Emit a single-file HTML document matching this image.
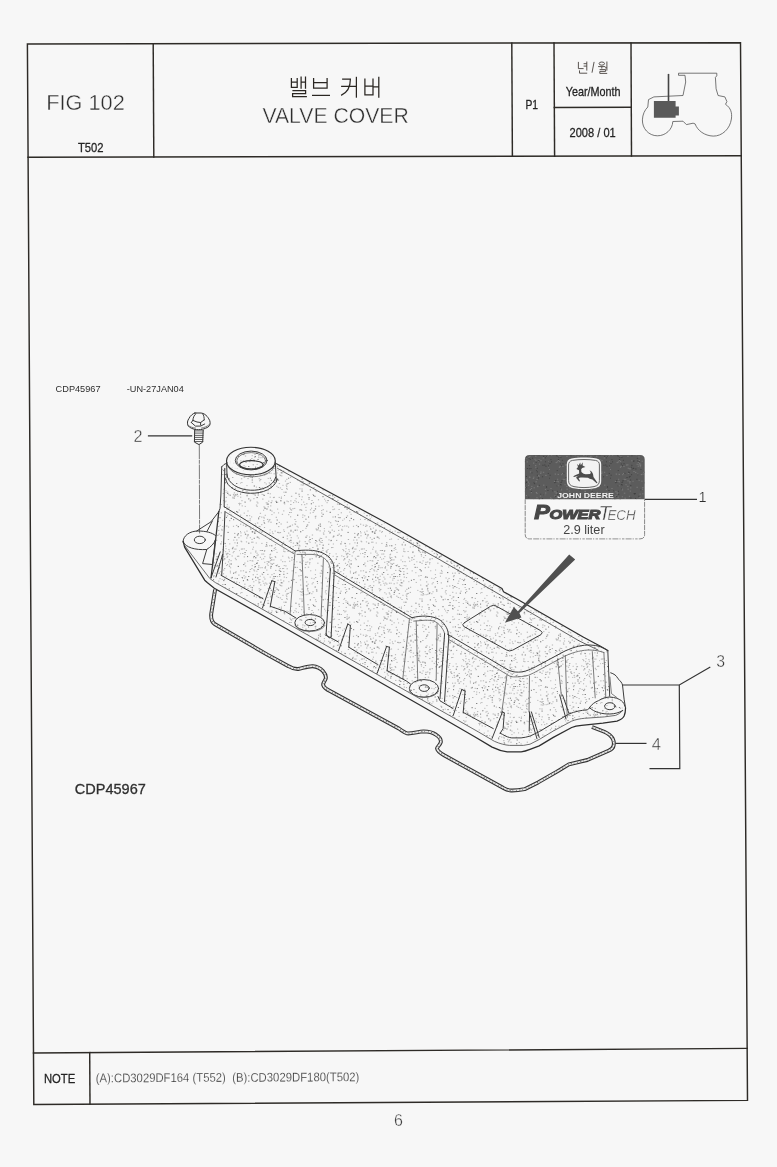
<!DOCTYPE html>
<html><head><meta charset="utf-8"><title>FIG 102 VALVE COVER</title>
<style>
html,body{margin:0;padding:0;background:#f7f7f7;}
body{width:777px;height:1167px;overflow:hidden;font-family:"Liberation Sans",sans-serif;}
svg{display:block;position:absolute;left:0;top:0;}
text{font-family:"Liberation Sans",sans-serif;fill:#2e2e2e;}
.fr{stroke:#2e2b27;stroke-width:1.45;fill:none;stroke-linecap:square;}
.k{stroke:#2a2622;stroke-width:1.25;fill:none;stroke-linecap:butt;stroke-linejoin:miter;}
.ks{stroke:#47423d;stroke-width:0.9;fill:none;stroke-linecap:butt;}
.l{stroke:#3c3c3c;stroke-width:1.0;fill:none;stroke-linecap:round;stroke-linejoin:round;}
.l2{stroke:#5a5a5a;stroke-width:0.8;fill:none;stroke-linecap:round;stroke-linejoin:round;}
.ld{stroke:#333;stroke-width:1.2;fill:none;stroke-linecap:butt;}
.thin{stroke:#f7f7f7;stroke-width:0.4;}
.hv{fill:#242424;stroke:#242424;stroke-width:0.28;}
.thin2{stroke:#f7f7f7;stroke-width:0.22;}
</style></head>
<body>
<svg width="777" height="1167" viewBox="0 0 777 1167">
<rect width="777" height="1167" fill="#f7f7f7"/>
<defs>
<filter id="ga" x="-5%" y="-5%" width="110%" height="110%"><feOffset dx="0" dy="0"/></filter>
<pattern id="stp" width="120" height="110" patternUnits="userSpaceOnUse">
<path d="M38.9 16.6h0.2M8.7 58.9h0.2M7.0 55.8h0.1M52.0 7.7h0.1M50.9 91.0h0.1M26.8 69.0h0.3M69.3 43.6h0.3M5.6 94.4h0.1M17.3 13.0h0.1M97.9 19.9h0.2M76.7 41.0h0.2M7.5 6.6h0.1M81.6 47.0h0.1M70.3 49.9h0.1M95.3 76.9h0.1M68.9 57.8h0.3M87.5 31.7h0.3M14.2 46.0h0.3M18.2 53.8h0.1M80.2 84.1h0.2M105.1 34.5h0.3M71.3 63.8h0.2M100.8 103.9h0.2M79.7 6.7h0.3M77.7 109.2h0.3M34.2 42.4h0.3M2.7 50.8h0.1M14.1 6.5h0.3M15.5 27.2h0.2M104.6 8.9h0.2M65.9 97.2h0.3M103.7 30.6h0.2M43.1 97.3h0.3M18.1 19.4h0.1M28.0 53.3h0.2M31.5 0.5h0.2M44.3 62.3h0.3M82.9 56.7h0.2M81.1 5.9h0.3M93.6 96.2h0.3M47.1 43.9h0.1M76.1 6.8h0.1M25.1 17.9h0.2M6.3 0.0h0.1M12.2 40.0h0.1M104.9 67.5h0.1M30.3 38.2h0.2M14.7 93.4h0.3M55.9 53.2h0.1M12.3 37.7h0.1M99.5 17.8h0.1M114.1 58.1h0.1M65.2 3.0h0.2M117.4 95.0h0.3M31.3 40.3h0.1M92.6 58.6h0.3M39.6 24.5h0.3M118.2 93.8h0.3M98.2 81.4h0.1M62.1 39.1h0.1M3.4 30.7h0.1M83.1 105.2h0.2M112.4 108.7h0.3M43.8 24.3h0.1M23.6 22.5h0.2M108.0 92.4h0.2M78.4 88.0h0.1M79.3 100.1h0.3M90.0 52.6h0.1M94.7 36.6h0.3M116.6 43.5h0.2M113.6 79.7h0.1M15.2 16.6h0.3M96.8 16.1h0.3M117.6 72.3h0.2M65.8 14.4h0.1M116.5 71.5h0.2M112.0 47.7h0.3M99.1 23.2h0.1M35.2 26.5h0.2M31.1 46.1h0.1M109.2 38.9h0.2M70.0 99.5h0.2M110.1 55.2h0.2M62.8 2.1h0.2M22.0 0.4h0.3M20.7 52.1h0.3M66.8 35.9h0.2M66.7 86.3h0.1M67.2 27.3h0.1M92.7 55.8h0.2M91.2 100.4h0.2M73.5 55.6h0.2M83.1 49.8h0.2M57.4 103.6h0.3M105.2 103.6h0.1M67.1 103.8h0.3M16.5 13.4h0.2M8.7 26.5h0.1M80.3 86.2h0.3M18.5 78.8h0.2M17.2 97.1h0.3M26.4 104.8h0.2M58.5 108.9h0.3M19.4 47.5h0.2M40.7 21.5h0.1M86.7 2.1h0.2M52.9 2.0h0.1M74.9 56.3h0.1M118.2 86.7h0.3M12.6 29.2h0.1M93.5 29.7h0.1M50.7 100.3h0.3M31.0 16.4h0.3M68.5 77.0h0.1M6.9 75.7h0.2M8.7 103.2h0.2M96.2 9.2h0.3M8.0 94.9h0.2M40.7 60.8h0.3M32.1 14.2h0.2M28.6 12.0h0.1M6.0 22.2h0.1M36.6 83.5h0.1M60.0 19.6h0.2M2.2 27.5h0.1M88.0 60.6h0.1M57.0 102.8h0.1M98.3 47.5h0.2M100.2 43.2h0.2M82.5 108.1h0.2M99.9 77.7h0.2M48.6 38.2h0.1M15.6 7.8h0.3M30.7 18.0h0.1M101.0 95.8h0.3M33.8 26.6h0.1M55.1 17.3h0.2M31.6 105.8h0.3M65.6 26.9h0.3M37.1 39.2h0.1M45.8 52.2h0.2M24.1 55.5h0.1M31.7 9.9h0.2M5.0 2.5h0.1M27.9 64.4h0.2M90.1 72.3h0.3M105.5 42.8h0.1M118.2 16.4h0.3M77.2 4.8h0.3M107.0 69.0h0.3M97.5 15.3h0.2M60.5 91.8h0.3M99.2 64.2h0.3M81.9 76.3h0.1M3.7 14.6h0.2M12.6 91.9h0.2M75.3 68.9h0.3M58.7 0.4h0.3M89.8 55.3h0.2M79.1 7.3h0.3M30.3 8.2h0.1M87.5 22.6h0.3M117.1 54.3h0.2M57.5 75.2h0.3M74.0 70.7h0.1M17.7 27.9h0.3M36.5 62.5h0.1M7.3 29.6h0.3M83.1 74.3h0.1M62.0 51.1h0.2M14.2 98.3h0.1M117.4 103.0h0.1M55.1 90.2h0.3M53.9 29.6h0.1M113.5 23.2h0.2M17.0 57.6h0.3M15.9 90.2h0.2M106.4 77.4h0.1M107.7 53.5h0.1M0.4 54.1h0.2M36.2 15.5h0.2M37.9 92.4h0.1M90.1 92.3h0.1M111.2 78.4h0.3M34.8 40.9h0.2M119.9 64.8h0.2M51.4 30.3h0.1M12.2 91.8h0.1M112.3 27.4h0.1M61.3 20.9h0.2M114.7 97.3h0.3M75.7 100.5h0.3M65.9 79.2h0.1M87.9 49.6h0.3M77.3 31.5h0.1M111.2 14.0h0.2M41.2 32.8h0.3M117.2 28.6h0.2M36.1 61.3h0.2" stroke="#6a6a6a" stroke-width="0.9" stroke-linecap="square" fill="none"/>
<path d="M20.1 17.8h0.1M108.7 54.7h0.1M108.8 109.6h0.2M16.8 21.2h0.1M41.0 10.0h0.1M31.0 62.7h0.4M90.0 45.4h0.2M62.9 41.5h0.2M7.4 30.5h0.4M15.1 55.4h0.3M103.5 23.8h0.1M29.8 44.0h0.2M114.5 93.4h0.4M2.6 3.5h0.3M107.5 52.1h0.3M0.0 43.1h0.4M99.1 94.1h0.4M29.8 12.0h0.1M62.7 75.0h0.4M86.6 71.2h0.3M54.9 60.7h0.1M93.9 25.6h0.4M77.5 33.4h0.1M30.2 70.0h0.3M13.5 7.7h0.2M69.9 42.7h0.1M72.1 1.2h0.2M55.3 105.5h0.3M106.1 52.3h0.1M29.6 105.7h0.3M36.9 2.4h0.2M80.9 46.2h0.1M80.1 101.8h0.1M4.1 37.2h0.2M81.9 21.8h0.3M88.7 55.5h0.1M116.4 34.3h0.3M27.7 24.4h0.3M35.4 104.7h0.2M22.5 24.6h0.2M79.8 104.4h0.1M47.2 23.4h0.4M17.0 5.7h0.1M47.2 98.8h0.4M87.9 109.7h0.4M39.5 20.4h0.4M89.6 3.5h0.3M45.4 41.1h0.2M20.3 0.3h0.1M42.2 105.1h0.1M115.7 22.8h0.2M98.6 90.4h0.2M5.9 52.1h0.2M110.3 21.2h0.2M107.6 3.3h0.2M97.4 84.3h0.1M4.2 6.9h0.4M30.8 82.2h0.4M40.7 30.0h0.4M74.0 28.8h0.3M38.0 30.3h0.1M90.7 100.8h0.3M113.2 2.7h0.1M57.0 105.2h0.4M46.4 27.6h0.2M59.2 102.1h0.1M96.3 81.2h0.3M92.7 66.8h0.2M38.3 39.8h0.3M9.5 21.7h0.3M29.7 7.1h0.1M66.3 35.8h0.4M106.0 108.7h0.1M10.1 10.6h0.2M85.2 49.2h0.1M50.0 68.2h0.3M89.8 93.2h0.3M14.5 92.5h0.2M68.0 41.0h0.3M23.9 27.2h0.1M18.4 97.3h0.3M39.2 43.6h0.4M60.9 25.5h0.3M78.4 109.0h0.1M57.0 90.1h0.3M109.7 4.4h0.2M14.3 20.9h0.4M70.0 102.3h0.2M103.9 49.4h0.1M93.3 104.0h0.1M71.5 68.2h0.1M44.2 15.6h0.1M30.6 65.9h0.3M24.4 1.3h0.2M81.4 20.4h0.2M24.4 87.5h0.2M7.6 11.2h0.2M66.0 70.3h0.1M19.6 76.5h0.2M34.0 33.8h0.4M37.5 62.3h0.2M50.0 95.1h0.4M43.7 21.7h0.3M24.4 0.6h0.4M50.9 90.2h0.2M105.9 50.7h0.1M1.8 60.7h0.3M109.2 9.8h0.3M44.5 55.5h0.1M34.0 57.3h0.4M13.1 54.0h0.3M116.0 21.7h0.1M113.2 107.3h0.2M6.4 101.9h0.2M108.5 68.2h0.3M19.2 86.4h0.1M48.5 93.1h0.3M22.0 24.0h0.2M62.1 42.2h0.1M29.6 79.7h0.4M4.9 61.9h0.3M4.6 92.2h0.1M71.9 60.5h0.3M36.7 46.2h0.3M51.1 72.5h0.2M52.6 2.6h0.3M58.7 25.9h0.3M93.6 50.4h0.1M56.8 11.8h0.1M51.7 10.1h0.2M61.2 4.5h0.3M9.9 80.7h0.3M61.4 6.0h0.2M45.3 104.6h0.1M102.8 109.6h0.3M97.8 21.3h0.4M59.0 105.2h0.4M19.8 86.7h0.4M7.9 38.6h0.3M19.1 98.6h0.1M97.9 15.8h0.2M110.4 22.9h0.1M60.7 35.1h0.1M21.9 17.7h0.4M81.6 98.5h0.1M94.2 12.7h0.2M76.4 39.6h0.4M66.6 63.8h0.4M12.6 109.2h0.3M47.3 87.7h0.1M118.9 63.5h0.2M91.8 48.7h0.1M89.2 5.3h0.3M30.4 70.3h0.4M70.3 73.0h0.2M0.2 3.7h0.1M73.9 47.5h0.2M107.5 14.5h0.1M78.4 2.5h0.1M42.6 11.7h0.2M26.9 64.2h0.3M24.5 68.6h0.2M16.2 103.0h0.1M17.9 10.5h0.3M104.6 86.0h0.2M31.7 1.3h0.3M67.5 38.5h0.3M53.3 103.1h0.3M29.8 99.4h0.1M63.8 44.7h0.1M7.0 85.7h0.1M66.1 103.5h0.1M23.9 66.9h0.2M77.0 89.5h0.1M37.1 33.0h0.1M106.7 86.1h0.3M0.8 92.9h0.3M55.8 81.6h0.2M27.1 11.6h0.1M4.7 36.9h0.3M83.4 93.0h0.3M31.9 60.9h0.2M94.6 57.6h0.1M77.0 106.2h0.1M105.6 1.7h0.1M28.3 81.8h0.4M89.5 36.0h0.4M39.4 26.3h0.4M75.7 76.2h0.3M117.5 51.6h0.3M83.7 94.3h0.2M87.0 62.7h0.2M25.4 68.5h0.1M109.3 15.9h0.1M12.8 102.2h0.2M17.0 3.2h0.1M83.1 69.7h0.3M88.4 7.2h0.3M43.6 89.9h0.3M107.0 7.3h0.4M109.7 103.9h0.1M24.7 12.3h0.1M101.7 89.3h0.3M99.0 69.5h0.2M12.0 10.8h0.3M24.6 35.1h0.2M2.5 28.2h0.1M85.9 40.5h0.2M115.7 55.4h0.3M74.2 3.4h0.2M52.4 85.0h0.2M84.6 59.2h0.1M103.5 10.0h0.3M20.4 0.1h0.1M91.5 107.6h0.1M58.9 54.1h0.3M22.1 54.4h0.2M99.8 28.7h0.4M34.0 23.6h0.3M59.8 12.1h0.3M9.7 86.7h0.3M94.4 69.1h0.2M48.2 43.4h0.4M10.3 97.7h0.1M24.7 29.0h0.4M60.1 41.7h0.4M28.0 50.7h0.2M90.5 82.8h0.3M41.8 35.9h0.1M101.2 72.8h0.3M20.3 48.3h0.3M69.5 13.9h0.2M106.2 26.2h0.1M36.2 77.3h0.3M18.6 17.2h0.1M39.2 57.4h0.1M39.4 20.8h0.4M87.4 11.2h0.4M12.2 42.3h0.4M95.4 80.7h0.2M23.5 70.2h0.1M24.8 42.7h0.1M47.9 87.0h0.3M60.1 69.6h0.2M17.0 66.4h0.2M88.9 99.9h0.2M68.9 82.4h0.2M27.4 79.4h0.4M92.9 77.0h0.3M81.6 70.6h0.2M37.6 69.1h0.1M50.3 86.1h0.3M75.6 27.5h0.2M54.6 68.4h0.2M81.0 102.3h0.1M78.5 85.6h0.2M58.8 107.2h0.1M65.2 17.7h0.3M112.9 57.1h0.1M68.9 59.5h0.3M61.5 70.3h0.3M62.6 45.1h0.4M25.2 75.3h0.2M91.5 13.5h0.4M42.7 6.2h0.1M48.0 1.5h0.2M50.5 76.8h0.2M31.8 24.7h0.3M112.8 58.0h0.1M96.2 43.1h0.1M15.5 85.4h0.3M76.1 51.6h0.2M27.1 106.0h0.2M76.7 90.1h0.3M56.2 32.4h0.2M15.0 91.7h0.2M102.1 29.4h0.2M30.4 46.9h0.1M0.3 79.4h0.1M29.4 33.2h0.2M51.4 70.1h0.3M43.5 102.2h0.3M6.8 91.1h0.4M94.1 15.4h0.3M76.0 1.6h0.1M114.2 72.2h0.1M12.2 15.7h0.1M93.2 38.1h0.1M108.5 87.1h0.1M106.9 66.9h0.3M80.2 98.3h0.3M100.7 21.7h0.3M63.7 81.6h0.2M105.9 61.1h0.1M28.1 15.3h0.2M7.0 51.4h0.1M59.0 54.8h0.2M103.5 0.7h0.3M56.2 61.9h0.3M100.9 41.2h0.2M115.3 8.3h0.3M76.3 3.1h0.3M81.9 102.5h0.2M117.8 56.2h0.2M107.7 3.7h0.3M75.0 37.2h0.4M43.9 52.2h0.2M92.5 23.2h0.2M50.7 60.9h0.3M35.1 91.1h0.2M60.4 29.9h0.2M117.0 72.0h0.3M39.7 34.9h0.2M70.4 69.8h0.3M4.8 79.5h0.4M65.4 5.5h0.2M0.7 20.9h0.4M73.0 72.4h0.3M109.2 67.3h0.3M75.2 76.6h0.3M81.7 23.4h0.3M54.9 83.9h0.1M21.8 4.1h0.3M109.7 72.1h0.2M98.7 86.5h0.2M31.0 33.2h0.2M38.2 47.4h0.3M112.1 6.0h0.2M4.7 13.1h0.3M69.0 101.0h0.2M1.7 42.6h0.3M112.5 107.9h0.2M49.5 11.2h0.3M25.5 16.7h0.1M0.6 75.2h0.1M116.0 9.7h0.4M15.5 2.0h0.3M29.1 80.7h0.1M6.0 85.1h0.3M102.7 80.3h0.1M75.4 78.0h0.2M111.9 27.9h0.4M86.1 1.3h0.1M78.1 89.9h0.1M37.3 80.2h0.1M103.3 53.5h0.1M44.1 63.2h0.2M81.2 15.9h0.3M43.6 70.9h0.3M50.2 42.4h0.3M113.4 86.3h0.2M35.1 6.7h0.4M84.4 91.0h0.2M72.7 107.5h0.3M72.1 33.9h0.2M106.6 41.4h0.3M72.2 98.6h0.3M34.0 0.2h0.1M50.7 64.5h0.3M106.5 4.7h0.3M97.4 95.4h0.3M32.9 93.6h0.3M82.2 100.5h0.2M10.2 60.9h0.3M24.1 82.5h0.4M28.1 66.8h0.3M55.8 22.7h0.1M90.1 87.1h0.2M10.5 88.7h0.3M27.9 63.8h0.4M106.2 57.4h0.2M70.7 20.8h0.1M21.7 77.1h0.2M67.7 44.3h0.2M17.9 4.9h0.4M44.9 11.7h0.3M94.5 17.2h0.3M41.4 57.1h0.1M4.0 108.9h0.4M58.4 62.4h0.1M93.5 46.9h0.4M92.1 90.1h0.4M30.5 4.2h0.1M21.7 9.2h0.1M66.9 95.8h0.2M113.7 100.1h0.1M71.8 43.7h0.1M115.1 28.3h0.2M76.9 105.2h0.3M47.2 49.3h0.1M115.9 109.1h0.1M4.6 28.1h0.2M108.3 99.5h0.3M5.6 86.5h0.3M77.6 108.4h0.1M17.4 83.0h0.4M81.2 32.9h0.3M90.9 11.6h0.2M30.8 13.7h0.2M20.2 26.2h0.1M81.3 1.4h0.3M23.4 4.0h0.4M26.5 102.7h0.4M106.6 15.4h0.2M11.6 102.2h0.3M75.4 49.8h0.2M98.8 52.5h0.3M17.1 24.4h0.1M85.6 60.9h0.1M104.5 29.3h0.2M18.7 29.8h0.3M40.1 18.5h0.2M38.2 99.3h0.1M117.4 6.3h0.4M80.2 23.2h0.2M34.3 28.4h0.1M43.7 109.0h0.4M111.0 10.7h0.2M107.5 6.3h0.3M35.2 107.6h0.1M96.8 37.5h0.1M0.2 91.5h0.2M22.3 47.9h0.4M26.2 62.8h0.1M21.6 84.7h0.3M23.6 8.7h0.1M73.0 54.5h0.1M24.7 67.4h0.3M97.4 64.1h0.1M7.9 80.6h0.2M86.6 6.1h0.3M40.2 92.6h0.4M59.2 1.7h0.4M57.2 95.9h0.1M22.3 91.5h0.2M19.6 40.8h0.3M0.6 57.2h0.2M61.9 13.3h0.3M98.0 95.2h0.2M85.3 42.0h0.3M7.3 96.0h0.4M59.4 56.5h0.2M64.5 2.3h0.4M26.8 20.1h0.1M30.1 89.9h0.1M11.6 76.9h0.1M2.1 65.9h0.3M62.7 77.3h0.1M104.3 78.9h0.1M14.8 54.3h0.2M33.6 13.4h0.2M16.4 65.1h0.4M17.7 63.0h0.3M19.7 90.9h0.4M46.6 46.3h0.3M63.1 43.5h0.4M93.2 37.2h0.1M40.2 47.9h0.4M96.5 100.4h0.3M101.7 5.9h0.2M114.9 102.8h0.1M50.7 69.6h0.2M63.7 7.6h0.2M60.6 2.3h0.1M116.4 85.4h0.4M76.0 89.0h0.4M106.2 3.8h0.3M31.9 74.6h0.1M65.1 101.7h0.3M30.1 57.2h0.2M114.1 31.6h0.2M77.7 13.2h0.3M114.7 56.5h0.1M56.0 58.7h0.1M14.9 14.5h0.2M48.8 31.7h0.1M10.5 60.1h0.3M73.2 62.7h0.3M24.1 78.1h0.2M65.8 67.4h0.2M37.3 26.6h0.1M61.5 42.1h0.3M1.4 38.8h0.4M28.6 61.2h0.2M34.2 108.6h0.2M92.7 17.4h0.1M104.6 48.4h0.1M46.5 48.4h0.3M13.1 24.8h0.4M88.6 17.0h0.2M42.3 74.3h0.3M102.0 90.3h0.2M88.7 81.8h0.3M57.0 86.3h0.3M109.8 14.0h0.4M0.5 84.2h0.3M59.7 105.9h0.3M50.1 86.2h0.4M72.9 41.8h0.2M54.9 79.5h0.2M46.9 61.1h0.2M38.6 86.6h0.3M59.9 48.8h0.1M36.5 15.9h0.3M69.8 9.7h0.4M38.9 92.8h0.3M115.1 22.5h0.2M109.3 1.2h0.1M67.8 54.7h0.4M92.8 59.2h0.4M62.1 56.9h0.3M46.7 39.3h0.3M42.1 104.3h0.3M63.0 10.9h0.2M48.1 61.7h0.3M105.6 106.1h0.2M52.8 68.7h0.4M41.2 58.3h0.3M20.5 35.0h0.4M99.1 56.4h0.1M107.3 75.9h0.3M118.8 97.7h0.2M18.8 31.9h0.2M60.6 20.7h0.1M75.6 66.3h0.2M119.2 70.0h0.1M49.4 86.6h0.2M82.9 0.4h0.2M101.1 64.5h0.3M23.6 54.8h0.2M31.9 71.1h0.2M119.7 63.2h0.2M14.6 17.2h0.3M12.8 11.0h0.1M62.7 90.5h0.3M96.8 6.8h0.1M92.5 35.5h0.3M42.5 18.6h0.1M11.9 99.4h0.3M41.9 49.5h0.2M6.6 98.0h0.3M115.2 48.4h0.3M29.9 4.8h0.4M102.6 34.6h0.4M97.9 33.4h0.3M115.2 54.5h0.4M29.2 42.9h0.3M26.6 34.0h0.4M58.1 87.2h0.1M20.8 39.4h0.1M116.6 32.0h0.2M13.8 58.7h0.2M48.4 7.2h0.1M99.1 38.6h0.1M22.9 31.2h0.1M4.2 73.1h0.2M18.7 77.6h0.1M32.4 91.9h0.1M53.2 92.0h0.3M19.1 38.8h0.3M45.2 105.4h0.1M114.1 55.5h0.1M54.3 14.4h0.3M31.3 99.0h0.3M44.2 27.1h0.3M25.5 96.0h0.1M61.6 59.7h0.1M92.6 42.3h0.3M68.1 34.2h0.2M10.3 19.5h0.3M38.5 72.9h0.1M67.4 39.8h0.2M35.6 7.3h0.2M27.2 13.9h0.3M33.9 44.4h0.4M93.0 97.1h0.4M15.9 30.4h0.1M81.6 73.0h0.2M49.5 72.5h0.3M29.8 93.1h0.2M75.5 20.0h0.1M109.5 80.7h0.3M4.9 4.4h0.1M23.8 33.3h0.2M4.7 34.2h0.3M21.6 92.3h0.2M86.0 28.0h0.2M82.1 38.4h0.1M100.1 85.4h0.2M5.2 94.0h0.3M5.7 26.9h0.1M95.0 23.1h0.4M89.9 9.5h0.3M47.2 82.2h0.3M33.7 9.9h0.4M50.9 102.3h0.3M88.6 91.3h0.3M54.3 6.0h0.3M51.4 56.3h0.4M15.3 83.8h0.1M84.3 88.6h0.1M65.6 106.6h0.3M65.3 27.5h0.1M42.9 45.3h0.1M37.3 15.0h0.3M80.4 26.2h0.1M61.8 49.0h0.4M42.2 32.9h0.4M17.0 62.0h0.2M97.8 60.3h0.3M20.3 73.3h0.3M55.3 84.3h0.3M13.7 31.8h0.2M24.8 6.6h0.1M23.7 77.2h0.2M13.6 35.7h0.2M43.6 18.5h0.1M1.3 109.1h0.3M10.1 78.9h0.4M67.6 12.0h0.2M52.1 20.9h0.2M1.0 101.2h0.3M75.3 102.9h0.3M30.2 27.1h0.1M3.3 85.2h0.3M35.6 20.4h0.3M101.5 101.9h0.1M94.2 91.3h0.3M39.2 20.3h0.3M38.4 40.5h0.2M44.3 91.5h0.1M5.0 62.4h0.3M98.4 77.6h0.4M113.4 54.4h0.2M18.9 33.0h0.3M9.6 75.7h0.1M53.2 106.7h0.1M4.8 48.3h0.1M86.8 0.3h0.3M102.6 86.6h0.2M34.0 72.8h0.2M50.5 37.3h0.2M79.9 90.9h0.4M19.7 32.5h0.2M67.6 38.3h0.1M10.2 35.6h0.2M116.6 100.0h0.4M116.9 105.8h0.3M97.3 6.6h0.3M73.1 32.7h0.2M114.3 52.9h0.3M35.9 37.8h0.4M3.3 20.8h0.3M53.7 9.4h0.3M44.6 63.9h0.2M63.6 62.1h0.2M13.7 19.9h0.4M65.8 12.3h0.4M30.4 10.4h0.2M30.2 53.8h0.2M27.2 63.0h0.1M61.6 64.7h0.1M49.0 8.1h0.2M103.6 60.6h0.3M90.8 12.6h0.4M86.6 11.2h0.3M47.0 18.8h0.4M67.6 85.2h0.1M93.1 6.3h0.1M44.7 1.7h0.3M25.6 33.0h0.3M51.1 97.7h0.3M104.7 61.9h0.4M104.5 18.5h0.3M41.0 84.0h0.3M99.1 13.5h0.2M88.5 104.3h0.3M5.2 66.4h0.1M65.9 88.3h0.1M111.0 74.3h0.1M23.2 49.1h0.3M69.8 12.5h0.1M13.3 88.1h0.1M66.5 31.9h0.3M45.7 15.9h0.4M64.6 75.8h0.3M113.9 1.5h0.2M18.1 55.2h0.4M96.1 3.9h0.1M98.2 74.7h0.2M57.1 17.4h0.3M47.2 96.0h0.3M9.1 36.2h0.1M107.3 64.8h0.1M20.4 39.7h0.2M69.2 42.7h0.2M0.7 63.7h0.2M2.5 50.5h0.4M5.4 16.0h0.3M32.7 30.1h0.2M31.4 62.6h0.2M114.8 109.1h0.1M67.3 84.8h0.4M92.9 69.6h0.3M43.5 31.0h0.3M104.7 103.3h0.3M36.5 84.0h0.3M61.1 69.9h0.2M66.1 44.7h0.1M40.5 35.6h0.4M57.8 40.4h0.1M28.2 38.4h0.1M0.9 95.8h0.2M53.5 62.6h0.2M20.3 7.3h0.2M37.0 79.9h0.2M112.5 37.5h0.4M70.0 8.8h0.1M69.7 108.6h0.2M92.9 47.1h0.4M8.1 53.3h0.4M33.1 28.3h0.1M19.7 29.5h0.3M26.2 44.0h0.1M72.3 95.0h0.3M23.6 80.7h0.4M72.1 8.7h0.3M105.1 37.5h0.1M22.6 59.1h0.4M76.8 101.5h0.1M39.2 82.4h0.3M48.6 74.7h0.2M6.9 45.6h0.1M75.2 36.8h0.2M71.7 28.3h0.2M1.6 101.8h0.2M118.5 6.2h0.3M86.9 36.2h0.1M18.7 15.7h0.3M10.8 89.5h0.2M64.6 64.7h0.2M78.9 66.2h0.2M88.9 28.4h0.3M91.6 85.4h0.2M92.7 107.5h0.2M33.4 57.6h0.4M15.8 1.0h0.2M78.6 85.2h0.2M118.7 25.1h0.3M10.8 3.1h0.1M7.2 55.2h0.2M21.8 103.4h0.2M17.9 19.5h0.3M110.6 17.8h0.1M93.4 26.7h0.4M59.9 70.0h0.2M96.1 50.6h0.2M108.4 11.9h0.3M7.9 71.0h0.2M103.7 6.6h0.2M49.2 101.1h0.4M75.3 24.6h0.1M31.5 47.7h0.1M24.4 83.5h0.3M35.8 109.4h0.1M68.3 17.2h0.4M104.3 29.4h0.3M98.7 31.1h0.2M58.3 98.0h0.1M81.9 65.7h0.2M69.5 97.1h0.1M106.0 39.6h0.3M103.6 20.1h0.4M119.4 32.7h0.1M13.4 107.2h0.1M109.4 16.6h0.3M11.7 18.6h0.3M10.8 37.3h0.4M86.0 97.0h0.4M3.9 25.8h0.3M82.7 4.2h0.2M27.8 47.4h0.1M2.4 109.0h0.2M105.4 13.3h0.2M16.3 47.1h0.1M82.2 16.3h0.3M60.1 12.4h0.2M59.6 101.1h0.2M25.8 106.4h0.4M87.8 30.0h0.1M31.8 7.6h0.1M61.1 44.9h0.2M43.5 1.2h0.3M78.4 59.8h0.2M82.8 108.1h0.4M86.1 43.9h0.2M50.3 107.0h0.2M46.2 45.1h0.1M119.8 0.6h0.3M111.2 28.0h0.3" stroke="#ababab" stroke-width="0.9" stroke-linecap="square" fill="none"/>
</pattern>
<pattern id="stp2" width="61" height="47" patternUnits="userSpaceOnUse"><path d="M23.0 11.3h0.1M7.1 39.6h0.3M55.4 2.3h0.3M19.8 30.4h0.2M19.3 45.7h0.1M45.5 40.1h0.2M36.1 46.8h0.1M38.4 34.9h0.2M43.4 18.5h0.2M37.4 31.8h0.2M38.4 25.5h0.1M37.4 12.5h0.4M28.9 33.9h0.2M29.1 10.4h0.1M56.6 24.9h0.2M32.2 38.2h0.1M10.5 38.6h0.2M39.1 38.9h0.4M52.9 2.0h0.2M50.8 38.4h0.1M9.4 11.8h0.1M21.8 37.8h0.2M27.6 4.1h0.2M60.8 32.7h0.2M29.2 37.5h0.3M9.1 32.0h0.2M31.8 11.2h0.2M20.7 17.9h0.1M12.3 26.8h0.1M10.9 33.8h0.1M19.8 11.4h0.3M5.6 29.9h0.4M12.3 19.9h0.3M37.7 17.5h0.1M27.0 17.3h0.3M18.0 19.2h0.3M49.5 16.6h0.2M35.3 43.5h0.1M59.3 33.5h0.2M40.6 15.5h0.1M46.1 17.8h0.2M30.3 42.4h0.3M1.6 27.9h0.2M28.2 39.5h0.2M28.9 41.8h0.2M30.0 24.1h0.3M40.9 34.8h0.2M2.5 32.0h0.2M46.9 36.2h0.1M13.5 3.6h0.3M6.2 4.1h0.3M34.4 2.6h0.3M43.4 22.7h0.1M42.2 19.6h0.3M60.9 38.4h0.4M8.9 15.7h0.2M0.4 46.5h0.1M16.0 14.7h0.1M52.4 26.1h0.2M25.6 2.4h0.2M52.9 37.7h0.3M15.7 9.5h0.1M32.7 17.6h0.2M29.8 27.4h0.2M48.9 9.4h0.4M33.9 2.4h0.2M32.5 19.2h0.2M19.7 12.9h0.3M17.8 33.4h0.3M36.1 21.4h0.4M27.1 41.3h0.1M26.5 30.0h0.1M52.6 3.4h0.3M11.0 43.4h0.2M48.8 23.4h0.3M41.2 13.9h0.1M51.1 6.9h0.4M12.6 4.7h0.1M47.8 44.7h0.2M40.2 12.1h0.4M41.8 7.3h0.1M42.4 2.0h0.3M17.9 10.9h0.3M19.4 26.3h0.1M55.6 15.2h0.3M9.3 37.6h0.4M23.9 1.5h0.2M39.1 10.5h0.2M5.7 21.8h0.3M26.2 31.9h0.1M50.5 5.7h0.4M60.8 44.2h0.2M17.7 16.4h0.3M30.3 43.7h0.1M29.6 40.6h0.3M33.0 4.2h0.1M16.5 42.0h0.3M13.9 43.5h0.1M36.5 45.5h0.2M57.6 30.9h0.1M20.3 21.1h0.1M45.3 8.4h0.3M18.2 3.3h0.2M5.8 25.9h0.3M36.3 21.7h0.1M31.3 4.6h0.3M8.1 27.2h0.2M22.9 31.2h0.1M10.4 44.3h0.2M51.4 41.1h0.2M9.1 4.4h0.4M7.1 23.3h0.2M7.2 22.0h0.1M32.7 23.8h0.2M12.1 19.0h0.1M7.8 11.3h0.4M30.6 41.9h0.1M57.5 23.0h0.3M34.8 32.4h0.1M45.8 7.2h0.1M1.9 18.5h0.2M17.8 41.9h0.1M35.3 11.0h0.3M47.8 33.4h0.1M15.0 28.2h0.4M2.5 29.1h0.3M49.7 16.1h0.3M28.2 43.3h0.1M57.4 19.4h0.2M5.4 11.5h0.3M41.4 7.1h0.2M8.6 9.3h0.1M20.2 45.9h0.4M48.3 22.5h0.2M47.5 42.7h0.3M38.8 9.4h0.3M51.6 37.0h0.1M43.8 16.4h0.1M58.9 31.6h0.3M8.2 38.9h0.4M55.2 35.0h0.3M48.9 27.7h0.2M50.3 36.9h0.4M18.2 45.2h0.2M57.7 5.4h0.4M48.0 11.8h0.3M14.2 9.3h0.2M14.4 23.2h0.4M41.8 33.4h0.2M47.8 37.3h0.3" stroke="#7d7d7d" stroke-width="0.9" stroke-linecap="square" fill="none"/><path d="M57.4 38.8h0.2M5.3 30.7h0.3M20.7 28.0h0.3M48.4 0.2h0.2M1.0 5.2h0.3M25.5 28.4h0.2M20.5 10.0h0.2M51.5 29.1h0.2M5.4 12.7h0.3M27.0 31.1h0.3M7.4 32.1h0.1M50.2 8.7h0.1M58.4 17.0h0.1M54.3 28.7h0.4M24.1 23.5h0.4M30.9 46.5h0.1M50.7 7.6h0.2M0.0 8.2h0.4M27.7 38.0h0.1M21.5 4.7h0.2M52.6 24.2h0.2M56.6 42.0h0.3M4.6 29.3h0.2M58.4 17.0h0.3M38.5 17.7h0.2M41.3 42.6h0.2M22.2 45.9h0.1M50.9 32.1h0.2M27.3 35.3h0.4M44.5 35.2h0.1M19.8 6.4h0.4M54.4 6.8h0.3M35.2 2.2h0.2M45.6 30.2h0.1M46.5 13.7h0.2M25.7 46.0h0.3M49.1 31.8h0.2M58.7 33.4h0.3M16.9 7.6h0.3M50.4 37.3h0.2M8.5 24.3h0.4M9.9 34.7h0.1M19.0 2.5h0.2M23.4 45.4h0.4M11.4 14.5h0.4M12.0 15.1h0.2M6.6 12.2h0.2M23.5 45.3h0.1M12.4 42.7h0.2M51.1 29.9h0.3M19.2 7.1h0.3M28.7 26.3h0.3M45.9 12.9h0.2M56.0 24.9h0.2M38.4 12.2h0.3M2.5 38.9h0.2M21.6 44.2h0.1M14.8 3.3h0.2M46.0 31.9h0.2M49.3 5.2h0.2M39.3 45.5h0.3M42.2 36.4h0.2M57.4 34.9h0.2M23.9 37.9h0.2M11.3 41.0h0.2M31.8 31.5h0.4M8.1 15.9h0.1M25.2 23.6h0.3M40.7 27.2h0.2M35.0 12.9h0.3M48.1 39.4h0.1M41.0 35.4h0.2M54.8 42.2h0.3M50.1 30.5h0.4M8.0 33.1h0.3M37.4 12.9h0.1M36.8 38.7h0.1M13.0 10.5h0.1M41.2 45.8h0.3M21.9 32.9h0.1M51.2 15.3h0.1M38.4 6.5h0.1M3.6 20.9h0.2M49.2 1.9h0.3M6.7 10.6h0.3M20.7 15.6h0.2M13.3 37.3h0.1M51.2 38.0h0.2M1.9 36.6h0.1M30.8 19.9h0.1M38.4 34.1h0.3M24.4 24.1h0.3M13.8 40.8h0.4M49.1 45.2h0.2M60.2 3.4h0.2M8.2 21.3h0.3M43.2 21.4h0.2M11.6 18.9h0.1M11.8 34.6h0.2M26.8 9.3h0.3M12.0 12.5h0.2M42.8 45.7h0.3M57.8 43.2h0.3M43.9 2.9h0.1M0.8 40.6h0.3M38.4 12.4h0.2M10.0 29.7h0.4M18.7 2.1h0.1M21.7 42.3h0.3M27.8 4.8h0.1M9.4 36.5h0.2M60.4 42.9h0.3M29.1 38.6h0.1M6.6 26.5h0.2M12.8 11.8h0.1M55.4 33.4h0.4M59.8 20.5h0.3M23.4 38.2h0.3M8.2 0.6h0.1M35.7 17.8h0.1" stroke="#3e3e3e" stroke-width="0.9" stroke-linecap="square" fill="none"/></pattern>
<clipPath id="cb"><path d="M221.7 466.8 L227.1 463 L227.1 461.4 C227.1 453.7 238 447.5 251.4 447.5 C264.8 447.5 275.8 453.7 275.8 461.4 L276.5 463.7 L502 588.6 L504 591.5 L516 598.5 L583.6 637.3 L600 646 L607.8 650.6 L609.7 696 L622 702 L622.7 710.5 L604.3 716.9 L584.5 718.3 L571.7 721.1 L553.3 731 L539.2 739.5 L530 744.2 L509.5 745.4 L494.4 741.3 L478.2 731.8 L215.3 582.5 L209.9 578.6 L213 560 L215 545.2 L218.8 511.7 L220.9 495 Z"/></clipPath>
</defs>
<!-- FRAME -->
<g class="fr">
<path d="M27.4 43.9 L740.5 42.7 L747.5 1100.4 L33.8 1104.4 Z"/>
<path d="M28.1 157.3 L741.2 155.8"/>
<path d="M153.2 43.7 L153.8 157"/>
<path d="M511.8 43.1 L512.4 156.3"/>
<path d="M554 43 L554.6 156.2"/>
<path d="M631 42.9 L631.5 156"/>
<path d="M554.3 107.5 L631.3 107.3"/>
<path d="M33.5 1052.9 L747.2 1048.4"/>
<path d="M89.7 1052.6 L90 1104"/>
</g>
<!-- TEXT -->
<g filter="url(#ga)">
<text x="46.2" y="110.1" font-size="22.2" textLength="78.6" lengthAdjust="spacingAndGlyphs" class="thin" fill="#1e1e1e">FIG 102</text>
<text x="78" y="152.4" font-size="12.8" textLength="25.6" lengthAdjust="spacingAndGlyphs" class="hv">T502</text>
<text x="262.4" y="122.7" font-size="21.5" textLength="146.4" lengthAdjust="spacingAndGlyphs" class="thin" fill="#1e1e1e">VALVE COVER</text>
<text x="525.4" y="108.6" font-size="12.2" textLength="12.6" lengthAdjust="spacingAndGlyphs" class="hv">P1</text>
<text x="565.8" y="96" font-size="12.4" textLength="54.8" lengthAdjust="spacingAndGlyphs" class="hv">Year/Month</text>
<text x="569.5" y="136.7" font-size="12.8" textLength="46.3" lengthAdjust="spacingAndGlyphs" class="hv">2008 / 01</text>
<text x="43.9" y="1082.7" font-size="12.6" textLength="31.3" lengthAdjust="spacingAndGlyphs" class="hv">NOTE</text>
<text x="95.8" y="1082.4" font-size="12.6" textLength="130" lengthAdjust="spacingAndGlyphs" class="thin2" fill="#333" transform="rotate(-0.3 96 1082)">(A):CD3029DF164 (T552)</text>
<text x="232.2" y="1081.8" font-size="12.6" textLength="127.2" lengthAdjust="spacingAndGlyphs" class="thin2" fill="#333" transform="rotate(-0.3 232 1082)">(B):CD3029DF180(T502)</text>
<text x="394" y="1125.6" font-size="16" class="thin" fill="#444">6</text>
<text x="55.6" y="391.9" font-size="9.7" textLength="45" lengthAdjust="spacingAndGlyphs" fill="#555">CDP45967</text>
<text x="126.8" y="391.6" font-size="9.7" textLength="57" lengthAdjust="spacingAndGlyphs" fill="#777">-UN-27JAN04</text>
<text x="74.8" y="794.4" font-size="14.6" textLength="71" lengthAdjust="spacingAndGlyphs" fill="#333" stroke="#333" stroke-width="0.3">CDP45967</text>
<text x="133.6" y="441.8" font-size="16.2" class="thin" fill="#666">2</text>
<text x="698.6" y="501.8" font-size="14.6" class="thin2" fill="#333">1</text>
<text x="716.2" y="666.7" font-size="15.8" class="thin" fill="#555">3</text>
<text x="651.8" y="749.5" font-size="16.6" class="thin" fill="#555">4</text>
</g>
<!-- HANGUL TITLE -->
<g class="k">
<!-- bael -->
<path d="M291.4 78 V87.4 H297.2 V78 M291.4 82.2 H297.2"/>
<path d="M301.1 76.4 V88.7 M305.5 76.4 V88.7 M301.1 82.2 H305.5"/>
<path d="M292.4 90.7 H305.6 V93.5 H292.6 V96.5 H306.9"/>
<!-- beu -->
<path d="M313.6 78 V88 H327.1 V78 M313.6 82.5 H327.1"/>
<path d="M312 95.4 H330"/>
<!-- keo -->
<path d="M342.1 79 H350.4 C350.4 87 347.5 92.5 341.1 95.4 M341.1 86.4 H356.4"/>
<path d="M356.4 76.8 V97.7"/>
<!-- beo -->
<path d="M364.9 78.4 V94.8 H373 V78.4 M364.9 86.1 H373"/>
<path d="M378.8 76.8 V97.7 M373 86.9 H378.8"/>
</g>
<!-- HANGUL small: nyeon / wol -->
<g class="ks">
<path d="M578.4 61.9 V68.6 H583.6"/>
<path d="M586.8 61.5 V70.6 M583.6 63.7 H586.8 M583.6 66.1 H586.8"/>
<path d="M579.5 70.4 V73.2 H587.2"/>
<path d="M594.1 61.9 L592 72.7"/>
<ellipse cx="601.8" cy="63.6" rx="2.7" ry="1.6"/>
<path d="M598.1 66.6 H605.3 M601.8 66.6 V68.6"/>
<path d="M606.9 61.5 V70.6 M605 67.8 H606.9"/>
<path d="M599.6 69.6 H605.6 V71.4 H599.8 V73.4 H607.2"/>
</g>
<!-- TRACTOR ICON -->
<g>
<path class="l2" style="stroke:#555;stroke-width:0.8" d="M678.9 73.2 L716.8 73.2 L716.8 75.9 L715.4 77.3 L716.1 88.8 L718.1 95.5 L724.9 96.9 L726.9 101.6 L725.5 104.3
 C731 108 732.2 113 731.4 119 C730 129 722 136.3 713.2 136.1 C704.5 135.8 697.5 130.5 695.1 123.9
 L693.1 123.2 L686.4 124.6 L683 121.2 L672.8 121.5
 C672.5 129.5 665.5 135.9 657.3 135.8 C648.6 135.7 642.2 128.5 642.4 119.9 C642.6 114.5 644.6 110.2 647.8 107
 L648.5 99.6 L653.9 96.9 L683 95.5 L685.7 82 L685 75.3 L678.9 75.3 Z"/>
<path d="M668.5 73.9 V101.5" stroke="#444" stroke-width="1.6" fill="none"/>
<path d="M653.9 101 H675.6 V106.5 H678.9 V115.5 H675.6 V117.8 H653.9 Z" fill="#595959"/>
</g>
<!-- DRAWING -->
<g>
<rect x="170" y="440" width="470" height="330" fill="url(#stp)" clip-path="url(#cb)"/>
<path fill="#f7f7f7" fill-opacity="0.8" fill-rule="evenodd" d="M226.5 461 A24.4 13.8 0 1 0 275.3 461 A24.4 13.8 0 1 0 226.5 461 Z M235.3 460.5 A15.9 9.4 0 1 0 267.1 460.5 A15.9 9.4 0 1 0 235.3 460.5 Z"/>
</g>
<g class="l">
<!-- bolt -->
<path style="stroke:#333;stroke-width:1.0" d="M194.9 413 L201.1 413 C202.5 413.2 203.6 413.6 204.7 414.3 C206.5 415.6 208 417.2 208.8 418.9 C209.6 420 210.1 421.2 210.1 422.5 C210.2 423.6 210 424.6 209.6 425.6 C208.6 426.8 207.4 427.6 205.7 428.2 C203.5 429.2 201 429.7 198.5 429.7 C196 429.7 193.5 429.2 191.3 428.2 C189.8 427.5 188.7 426.7 188 425.6 C187.6 424.5 187.4 423.3 187.5 422 C187.7 420.7 188.2 419.5 189 418.4 C189.7 417 190.6 415.8 191.8 414.8 C192.7 414 193.7 413.4 194.9 413 Z"/>
<path d="M192.9 420.4 L197 422 L200.6 422.5 L204.2 419.9 M200.6 422.5 L200.6 425.1 M191.3 422.5 L195.4 426.1 L200.6 426.1 L204.7 424 M192.9 420.4 L191.3 422.5 M192.9 420.4 C193 417 194.5 414.8 196 413.6 M204.2 419.9 C204.3 417.5 203.8 415.5 202.8 414"/>
<path class="l2" d="M188.2 425.4 C190.5 427.2 193 427.8 195.5 428.1 M201.5 428.1 C204.5 427.6 207.2 426.4 209.3 424.6"/>
<path style="stroke:#333;stroke-width:1.0" d="M194.7 429.7 L194.4 442.1 L199 444.6 L202.7 442.1 L203.2 430.2"/>
<path d="M194.7 430.9 H203.1 M194.6 433.1 H203 M194.6 435.4 H203 M194.5 437.4 H202.9 M194.5 439.5 H202.8 M194.4 441.5 H202.8" style="stroke-width:0.8"/>
<path class="l2" d="M199.3 444.9 L199.6 533" stroke-dasharray="14 1.5 3 1.5"/>
<!-- neck -->
<ellipse cx="250.9" cy="461" rx="24.4" ry="13.8" style="stroke:#333;stroke-width:1.15"/>
<ellipse cx="251.2" cy="460.5" rx="15.9" ry="9.4"/>
<ellipse cx="251.2" cy="460.8" rx="14.4" ry="8.2" class="l2"/>
<ellipse cx="251.4" cy="464.8" rx="11.8" ry="4.2" style="stroke:#333;stroke-width:1.1"/>
<path d="M226.6 462 L227.1 477.6 M275.3 462 L276.3 480.5"/>
<path class="l2" d="M228.5 467 C234 479.5 268 480.5 273.6 467.5"/>
<path d="M226.8 474 C229 494.5 271 496 275.8 477"/>
<path d="M225.5 478.5 C228 497.5 272 499 277.5 479"/>
</g>
<g class="l">
<!-- back top edge -->
<path style="stroke:#2e2e2e;stroke-width:1.2" d="M276.5 463.7 L386.6 523 L502 588.6 L503.5 591.8 L516 598.5 L583.6 637.3 L600 646 L607.8 650.6"/>
<path style="stroke-width:0.8" d="M277.3 468.2 L440 559.8 L579 640.8 L598 650"/>
<!-- left end -->
<path d="M221.7 466.8 Q223.5 464 227.1 463"/>
<path d="M221.7 466.8 L220.9 495 L220 508.4 L218.8 511.7"/>
<path style="stroke:#333;stroke-width:1.3" d="M218.8 511.7 L215 545.2 L211 577.8"/>
<path d="M224.8 468.3 L224.2 495 L224.2 506.7"/>
<path d="M225 511.7 L223.5 545.2 L221.7 575.3"/>
<!-- boss 1 -->
<path d="M183 542 C183 535.5 190 531 198 531 C205.5 531 212 532.5 215.5 535.5"/>
<path d="M183 542 C186 547.5 195 550.2 206.5 549.5 C211 547 214 543.5 215.5 540"/>
<ellipse cx="199.8" cy="539.9" rx="5.5" ry="3.7"/>
<path d="M196.7 531 L211 521.8 L218.8 511.7 M207 531.4 L212.4 521"/>
<path d="M206.8 549.4 L202.6 563.6 L212.6 564.5 L215.2 540.2"/>
<path d="M220.2 551.9 L211 577.8 M222.7 554.4 L216 577"/>
<!-- ridge segment 1 -->
<path d="M224.2 506.7 L295.3 551"/>
<path class="l2" d="M225 511.7 L293.6 553.6"/>
<!-- pocket 1 -->
<path d="M295.3 551 C300 550.2 304 550.1 308.7 550.2 C314 550.4 318 551 322.1 552.7 C326 554.5 329 556.5 330.4 558.6 C332.5 561.5 333.8 564 333.8 566.9 L334.1 573.6"/>
<path class="l2" d="M297 554.4 L312 554.4 C316 554.6 319 555.5 322.1 556.9 C325.5 558.8 327.5 561 328.8 563.6 C329.8 566 330.2 568 330.4 570.3"/>
<path class="l2" d="M295 551.9 L290.1 613.6 M302 555.2 L304.3 615.3 M323.4 558.6 L321.1 617"/>
<path d="M330.4 568.6 L326.1 633.7 M334.1 573.6 L331.1 637"/>
<!-- ridge segment 2 -->
<path d="M334.2 570.9 L412 617.7"/>
<path class="l2" d="M335 575.1 L408.7 618.6"/>
<!-- pocket 2 -->
<path d="M412 617.7 C417 616.4 421 616.1 425.4 616.1 C429 616.2 432.5 616.8 435.4 617.7 C439 619 442 621 443.8 623.6 C446 626.5 447.5 629 448 632 L448.8 637"/>
<path class="l2" d="M413.7 621.1 L425.4 620.2 C428.5 620.2 431.5 620.4 433.8 621.1 C436.5 622 439 624 440.4 626.1 C442.5 628.5 444 631 444.6 633.6"/>
<path class="l2" d="M409.5 618.6 L402.8 678.7 M416.2 621.1 L417.8 681.2 M437.1 623.6 L436.2 680.3"/>
<path d="M444.6 633.6 L440 698.7 M448.8 637 L444.5 701.5"/>
<!-- ridge segment 3 + near end top -->
<path d="M447.5 634.2 L508.6 670.2 C513 672.2 517 672.4 522 671.9 C527 671 531 669 535.4 666.9 L565 651 C575 646.5 583 644.8 590 645 C598 645.2 603 647.3 607.8 650.6"/>
<path class="l2" d="M448.4 639.3 L506.9 674.4 C509 676 511 676.8 513.6 676.9 C519 677 524 676.5 528.7 675.2 C532 673.8 535.5 672 538.7 670.2 L565 656 C575 651.5 583 650 590 650 C596 650.2 600 651.2 603.9 652.5"/>
<!-- right end edges -->
<path d="M607.8 650.6 L609.7 696"/>
<path class="l2" d="M603.9 652.5 L605.8 697.9"/>
<!-- end face verticals -->
<path class="l2" d="M506.9 675.2 L501.6 713.4 M529.5 676.1 L529 711.4 M557.6 659.3 L561.4 696 M565.3 655.4 L567.2 717.2 M592.3 651.6 L595.2 697.9"/>
<!-- sticker pad -->
<path d="M464.5 622.6 L490.5 606.3 Q493.3 604.6 496 606 L540.6 630.6 Q543.6 632.6 541 634.6 L512.6 650.2 Q509.5 651.8 506.6 650 L463.6 626.4 Q461.4 624.6 464.5 622.6 Z"/>
</g>
<g class="l">
<!-- ribs front: left(outer) line, right line, top cap -->
<path d="M271.8 580.8 L262.5 607.9 M274.9 581.6 L270.3 606.3 M271.8 580.8 L274.9 581.6"/>
<path d="M347.8 624 L338.5 650.8 M350.4 625.6 L348.8 647.2 M347.8 624 L350.4 625.6"/>
<path d="M386.6 646.4 L377.4 672.7 M389.4 647.2 L387.1 670.6 M386.6 646.4 L389.4 647.2"/>
<path d="M461.8 689.5 L453.3 715.3 M465.1 691 L463.2 712.4 M461.8 689.5 L465.1 691"/>
<path d="M502.5 711.8 L492.1 738.4 M504.3 713 L503.1 728.6 L500.2 733.2 M502.5 711.8 L504.3 713"/>
<!-- ribs end -->
<path d="M529.2 711.9 L537 738.8 M531.4 711.9 L539.2 737.4 M529.6 712 L529.2 731"/>
<path d="M559.7 694.9 L566 719 M562.5 694.9 L568.9 713.3"/>
<!-- boss 2 -->
<ellipse cx="309.7" cy="622.8" rx="14.9" ry="8.2"/>
<ellipse cx="310.2" cy="622.5" rx="5.1" ry="3.1"/>
<path class="l2" d="M295 625 C297 632.5 320 634.5 324.8 625.5"/>
<!-- boss 3 -->
<ellipse cx="424" cy="688.4" rx="14.6" ry="8.8"/>
<ellipse cx="424.2" cy="688.1" rx="5" ry="3.3"/>
<path class="l2" d="M409.5 690.5 C412 698.5 434 700.5 438.6 691"/>
<!-- L1: wall base -->
<path d="M221 575.3 L262.7 598.5 M270.3 606.3 L285 611.3 L296 618"/>
<path d="M326.1 633.7 Q326.5 635.5 329.3 638 L331.1 637 M325.2 634.9 L338.5 642 M348.8 647.2 L365 657 L377.4 664.4 M387.1 670.6 L406.2 680.9 L410.5 684"/>
<path d="M438 696.5 L440 700.8 L453 708.5 M463.2 712.4 L493.3 728.6 M500.2 733.2 L502.5 734.4 C506 736.5 509 737.6 511.8 737.9 L521.1 737.9 C524 737.6 527 737 530 736.1 L539.2 731.7 L560.4 719 L568.9 714 C575 711.5 581 710.3 587.3 709.8 L590.1 707.6"/>
<!-- L2: flange top outer edge -->
<path style="stroke:#555;stroke-width:0.85" d="M185.1 546.2 L209.9 578.6 L215.3 582.5 L478.2 731.8 L494.4 741.3 C500 743.8 505 745 509.5 745.4 L523.4 745.4 L530 744.2 L539.2 739.5 L553.3 731 L571.7 721.1 C576 719.5 580 718.7 584.5 718.3 L604.3 716.9 L615.6 715.4 C619 714 621 712.5 622.7 710.5"/>
<!-- L3: flange bottom edge (dark) -->
<path style="stroke:#2e2e2e;stroke-width:1.25" d="M183.3 541.5 L184.6 547.2 L204.7 580.2 L207.5 582.8 L214.3 588.2 L285 628 L338.5 658.5 L426.8 709 L474.7 736.7 L492.1 747.1 C497 749.5 502 751.2 507.2 751.8 L521.1 751.8 C524 751.5 527 750.6 530 749.4 L539.2 745.9 L553.3 737.4 L571.7 727.5 C575 726 578 725.6 581.6 725.3 L602.9 723.2 L617 721.1 C621 719.8 623 718.5 624.1 716.1 C625.3 713 625.6 710.5 625.5 707.6"/>
<!-- right end boss + tab -->
<ellipse cx="609.9" cy="706.2" rx="5.3" ry="3.5"/>
<path d="M589.4 707.6 C592 704 595 702 598.6 700.6 C602 698.5 606 697.2 609.9 697 C615 697.4 619 698.8 621.3 700.6 C623.5 702.5 624.6 704.2 624.8 706.2"/>
<path d="M589.4 707.6 C592 710 595 711.6 598.6 712.6 C602 713.6 606 714.1 609.9 714 C615 713.8 619 712.8 622.7 710.5"/>
<path d="M610.7 672.8 C614 673.8 616.5 675.5 618 678.7 C620.5 681 622 683 622.5 685 L624.1 699.2 L625.5 707.6"/>
<path class="l2" d="M609.9 677 L611.4 693.5 L617 697.7"/>
</g>
<!-- GASKET -->
<g fill="none" stroke-linecap="butt" stroke-linejoin="round">
<path d="M215.1 589.5 L211.2 614 C210.8 619 212 622 214.6 624 L267.2 654.6 L288.5 666.2 C292 668.3 295 669.2 298.1 669 C303 668 308 666 312.8 666.2 C317 666.6 320.5 668.5 322.9 671 C325.5 674 326.4 676.5 325.6 679 C324.4 681.5 322.9 683 323.2 685 C323.8 687.6 327 689.6 330.9 691.5 L398.8 728.5 C402 730.8 404.5 732.6 407.1 733.4 C412 733.8 418 731.8 423.6 731.4 C429 731.4 433 732.6 435.9 734.7 C439.5 737 441.2 739.5 440.8 742.2 C440 745 437.5 746.5 437 748.4 C437.2 751 440.5 753.2 444.1 755.3 L503 787.8 C506 789.6 508.5 790.4 511.1 790.5 C516 790.6 520.5 790 524.6 789.2 L538.1 782.4 L557 771.6 L568.9 764.3 L587.3 760 L608.5 750.8 C611.5 749.5 613.2 748 613.5 745.9 C614.2 743.5 613.8 741 612.8 738.8 C611 735.5 608 733.4 604.3 731.7 L592 727" stroke="#333" stroke-width="3.9"/>
<path d="M215.1 589.5 L211.2 614 C210.8 619 212 622 214.6 624 L267.2 654.6 L288.5 666.2 C292 668.3 295 669.2 298.1 669 C303 668 308 666 312.8 666.2 C317 666.6 320.5 668.5 322.9 671 C325.5 674 326.4 676.5 325.6 679 C324.4 681.5 322.9 683 323.2 685 C323.8 687.6 327 689.6 330.9 691.5 L398.8 728.5 C402 730.8 404.5 732.6 407.1 733.4 C412 733.8 418 731.8 423.6 731.4 C429 731.4 433 732.6 435.9 734.7 C439.5 737 441.2 739.5 440.8 742.2 C440 745 437.5 746.5 437 748.4 C437.2 751 440.5 753.2 444.1 755.3 L503 787.8 C506 789.6 508.5 790.4 511.1 790.5 C516 790.6 520.5 790 524.6 789.2 L538.1 782.4 L557 771.6 L568.9 764.3 L587.3 760 L608.5 750.8 C611.5 749.5 613.2 748 613.5 745.9 C614.2 743.5 613.8 741 612.8 738.8 C611 735.5 608 733.4 604.3 731.7 L592 727" stroke="#ececec" stroke-width="1.7"/>
<path d="M215.1 589.5 L211.2 614 C210.8 619 212 622 214.6 624 L267.2 654.6 L288.5 666.2 C292 668.3 295 669.2 298.1 669 C303 668 308 666 312.8 666.2 C317 666.6 320.5 668.5 322.9 671 C325.5 674 326.4 676.5 325.6 679 C324.4 681.5 322.9 683 323.2 685 C323.8 687.6 327 689.6 330.9 691.5 L398.8 728.5 C402 730.8 404.5 732.6 407.1 733.4 C412 733.8 418 731.8 423.6 731.4 C429 731.4 433 732.6 435.9 734.7 C439.5 737 441.2 739.5 440.8 742.2 C440 745 437.5 746.5 437 748.4 C437.2 751 440.5 753.2 444.1 755.3 L503 787.8 C506 789.6 508.5 790.4 511.1 790.5 C516 790.6 520.5 790 524.6 789.2 L538.1 782.4 L557 771.6 L568.9 764.3 L587.3 760 L608.5 750.8 C611.5 749.5 613.2 748 613.5 745.9 C614.2 743.5 613.8 741 612.8 738.8 C611 735.5 608 733.4 604.3 731.7 L592 727" stroke="#707070" stroke-width="1.3" stroke-dasharray="0.7 2.3 1.1 1.9 0.6 3.1"/>
</g>
<!-- LEADERS / ARROW -->
<g class="ld">
<path d="M147.9 435.8 H192.2"/>
<path d="M644.8 499.3 H697"/>
<path d="M622.5 685 H679.3 L710.3 667 M679.3 685 L679.8 768.8 M649.5 768.6 H680.4"/>
<path d="M615.5 743.4 H646.5"/>
</g>
<path d="M569.2 554.4 L575.2 559.4 L519.4 613 L521.4 617.4 L504.9 622.7 L513.9 607 L517.9 611.3 Z" fill="#505050"/>
<!-- STICKER -->
<g filter="url(#ga)">
<path d="M529.4 454.9 H640.2 Q644.7 454.9 644.7 459.4 V499.3 H524.9 V459.4 Q524.9 454.9 529.4 454.9 Z" fill="#5c5c5c"/>
<path d="M529.4 454.9 H640.2 Q644.7 454.9 644.7 459.4 V499.3 H524.9 V459.4 Q524.9 454.9 529.4 454.9 Z" fill="url(#stp2)"/>
<path d="M525.2 499.3 V534.6 Q525.2 538.9 529.6 538.9 M640 538.9 Q644.6 538.9 644.6 534.6 V499.3" fill="none" stroke="#6a6a6a" stroke-width="0.8" stroke-dasharray="5 0.8"/>
<path d="M529.6 538.9 H640" fill="none" stroke="#777" stroke-width="0.8" stroke-dasharray="2.4 1.2 6 1 1.2 1.4"/>
<!-- JD logo -->
<path d="M571.5 458.6 C578.5 457.2 589.5 457.2 596.5 458.6 C600 459.4 601.2 461.4 601.2 464.5 V481 C601.2 485.4 599 487.3 594.5 488.3 C588 489.7 580 489.7 573.5 488.3 C569 487.3 566.8 485.4 566.8 481 V464.5 C566.8 461.4 568 459.4 571.5 458.6 Z" fill="#f3f3f3"/>
<path d="M572.5 460.4 C579 459.2 589 459.2 595.5 460.4 C598.4 461 599.4 462.6 599.4 465 V480.6 C599.4 484.2 597.6 485.8 594 486.6 C588 487.9 580 487.9 574 486.6 C570.4 485.8 568.6 484.2 568.6 480.6 V465 C568.6 462.6 569.6 461 572.5 460.4 Z" fill="none" stroke="#555" stroke-width="0.9"/>
<path d="M576.4 469.1 L578 467 L577.1 463.9 L578.6 465.6 L580.2 462.6 L580.8 465.2 L582.8 462.3 L582.6 465.6 L585.4 467.1 L582.2 468 L581.2 469.2 L581.4 472 C583 473.6 584.5 474.2 585.7 474.2 L590.2 473.9 L590.8 472.4 L589.6 470.3 L591.8 471.8 L593 474 L593.5 477 L597.6 482.9 L596.6 483.3 L592.4 479.6 L589.6 478.8 L588 477.8 L582.4 477.4 L580.6 477.6 L578.6 478 L580 481 L579.2 481.5 L576.1 477.8 L577 476.6 L579.4 475.4 L574 477 L573.2 476.4 L574.6 475.4 L579.2 473.6 L579 470.2 Z" fill="#4c4c4c"/>
<text x="557.3" y="498.3" font-size="6.6" font-weight="bold" textLength="56.4" lengthAdjust="spacingAndGlyphs" style="fill:#f2f2f2">JOHN DEERE</text>
<text x="534.2" y="519.4" font-size="19.6" font-weight="bold" font-style="italic" textLength="15.6" lengthAdjust="spacingAndGlyphs" style="fill:#474747;stroke:#474747;stroke-width:1.1">P</text>
<text x="549.4" y="519.3" font-size="13.2" font-weight="bold" font-style="italic" textLength="51" lengthAdjust="spacingAndGlyphs" style="fill:#474747;stroke:#474747;stroke-width:1.1">OWER</text>
<text x="598.6" y="519.6" font-size="20.4" font-style="italic" class="thin" style="fill:#3c3c3c">T</text>
<text x="607.4" y="519.6" font-size="14.4" font-style="italic" textLength="28.2" lengthAdjust="spacingAndGlyphs" class="thin" style="fill:#3c3c3c">ECH</text>
<text x="563.2" y="533.6" font-size="12.8" textLength="41.4" lengthAdjust="spacingAndGlyphs" style="fill:#444">2.9 liter</text>
</g>
</svg>
</body></html>
